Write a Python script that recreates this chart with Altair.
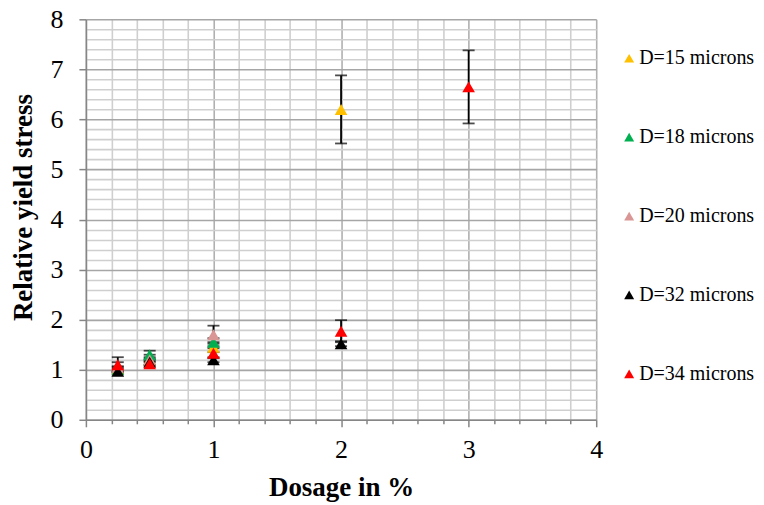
import altair as alt
import pandas as pd

series = ["D=15 microns", "D=18 microns", "D=20 microns", "D=32 microns", "D=34 microns"]
colors = ["#FFC000", "#00B050", "#D99694", "#000000", "#FF0000"]

doses = [0.25, 0.5, 1, 2, 3]
vals = {
    "D=15 microns": [1.02, 1.20, 1.45, 6.20],
    "D=18 microns": [1.00, 1.30, 1.55],
    "D=20 microns": [1.05, 1.20, 1.70],
    "D=32 microns": [0.97, 1.15, 1.20, 1.52],
    "D=34 microns": [1.10, 1.12, 1.33, 1.77, 6.65],
}
errs = {
    "D=15 microns": [0.05, 0.05, 0.10, 0.68],
    "D=18 microns": [0.05, 0.08, 0.08],
    "D=20 microns": [0.10, 0.10, 0.18],
    "D=32 microns": [0.05, 0.05, 0.05, 0.05],
    "D=34 microns": [0.15, 0.05, 0.10, 0.22, 0.73],
}

rows = []
for i, s in enumerate(series):
    for d, v, e in zip(doses, vals[s], errs[s]):
        rows.append({"series": s, "order": i, "dose": d, "val": v, "lo": v - e, "hi": v + e})
df = pd.DataFrame(rows)

x_vals = [round(i * 0.2, 1) for i in range(21)]
y_vals = [round(i * 0.2, 1) for i in range(41)]
is_major = "abs(datum.value - round(datum.value)) < 0.001"

FONT = "Liberation Serif, Tinos, Times New Roman, serif"


def make_x_axis():
    return alt.Axis(
        title="Dosage in %", values=x_vals, tickCount=100,
        labelExpr="abs(datum.value - round(datum.value)) < 0.001 ? format(datum.value, 'd') : ''",
        gridColor={"condition": {"test": is_major, "value": "#b0b0b0"}, "value": "#cfcfcf"},
        gridWidth=1.6,
        tickSize={"condition": {"test": is_major, "value": 7}, "value": 4},
        tickColor="#868686", tickWidth=1.5,
        domainColor="#868686", domainWidth=1.5,
        labelFont=FONT, labelFontSize=26, labelColor="black", labelPadding=10,
        titleFont=FONT, titleFontSize=27, titleFontWeight="bold", titleColor="black", titlePadding=12,
        labelFlush=False, labelOverlap=False,
    )


def make_y_axis():
    return alt.Axis(
        title="Relative yield stress", values=y_vals, tickCount=100,
        labelExpr="abs(datum.value - round(datum.value)) < 0.001 ? format(datum.value, 'd') : ''",
        gridColor={"condition": {"test": is_major, "value": "#a6a6a6"}, "value": "#cfcfcf"},
        gridWidth=1.6,
        tickSize={"condition": {"test": is_major, "value": 7}, "value": 0},
        tickColor="#868686", tickWidth=1.5,
        domainColor="#868686", domainWidth=1.5,
        labelFont=FONT, labelFontSize=26, labelColor="black", labelPadding=16,
        titleFont=FONT, titleFontSize=27, titleFontWeight="bold", titleColor="black", titlePadding=12,
        titleY=188,
        labelFlush=False, labelOverlap=False,
    )


xs = alt.Scale(domain=[0, 4], nice=False, zero=False)
ys = alt.Scale(domain=[0, 8], nice=False, zero=False)

base = alt.Chart(df)

err = base.mark_errorbar(ticks={"size": 12, "color": "black", "strokeWidth": 1.8},
                         color="black", thickness=1.8).encode(
    x=alt.X("dose:Q", scale=xs, axis=make_x_axis()),
    y=alt.Y("lo:Q", scale=ys, axis=make_y_axis()),
    y2="hi:Q",
)

pts = base.mark_point(filled=True, shape="triangle-up", size=160, opacity=1).encode(
    x=alt.X("dose:Q", scale=xs, axis=make_x_axis()),
    y=alt.Y("val:Q", scale=ys, axis=make_y_axis()),
    color=alt.Color("series:N", scale=alt.Scale(domain=series, range=colors),
                    legend=alt.Legend(title=None, orient="none", legendX=534, legendY=29,
                                      labelFont=FONT, labelFontSize=20, labelColor="black",
                                      symbolType="triangle-up", symbolSize=100,
                                      rowPadding=59, labelOffset=0, labelLimit=300)),
    order=alt.Order("order:Q"),
)

chart = alt.layer(err, pts).properties(
    width=511, height=401,
    autosize=alt.AutoSizeParams(type="none"),
    padding={"left": 78, "top": 11, "right": 160, "bottom": 84},
    background="white",
).configure(font=FONT).configure_view(stroke=None)

chart.save("out.html", embed_options={"renderer": "svg", "actions": False})
